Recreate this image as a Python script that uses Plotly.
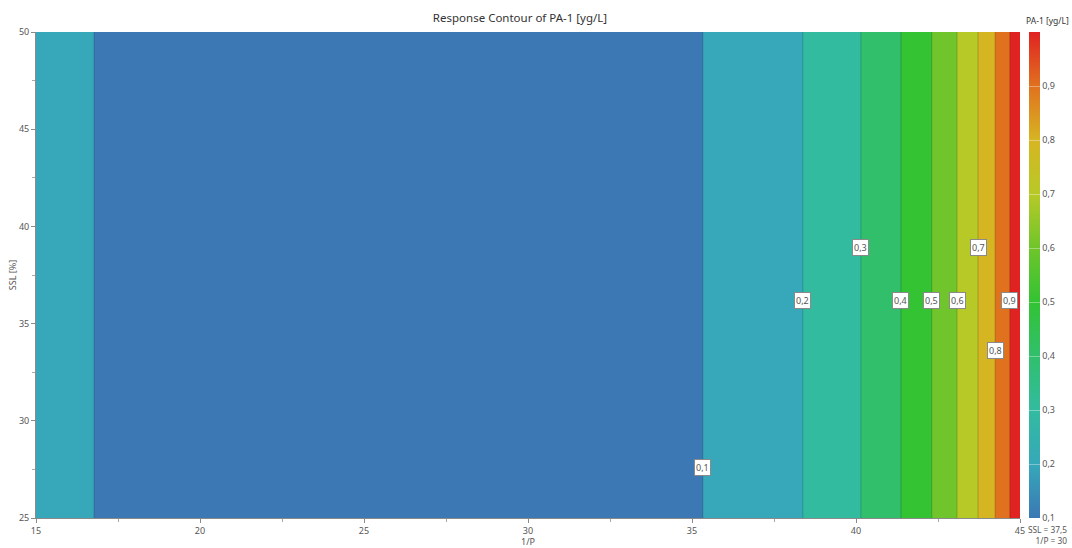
import plotly.graph_objects as go

# Response profile of PA-1 along 1/P (constant across SSL)
inv_p = [15.0, 16.77, 20.0, 25.0, 30.0, 35.33, 38.38, 40.15, 41.37, 42.31, 43.08, 43.72, 44.24, 44.69, 45.0]
pa1 = [0.13, 0.10, 0.075, 0.06, 0.07, 0.10, 0.20, 0.30, 0.40, 0.50, 0.60, 0.70, 0.80, 0.90, 0.99]
ssl = [25.0, 50.0]

# Contour levels and where their labels sit (SSL value)
levels = [0.1, 0.2, 0.3, 0.4, 0.5, 0.6, 0.7, 0.8, 0.9]
label_ssl = [27.6, 36.2, 38.9, 36.2, 36.2, 36.2, 38.9, 33.6, 36.2]

# Band colours: below 0.1, then each 0.1-wide band up to the top
band_colors = ["#3b78b4", "#36a8b9", "#33bb9f", "#31bf6c", "#33c333",
               "#6fc52b", "#b7c927", "#d6b522", "#e0711f", "#e02222"]

x_ticks = [15, 20, 25, 30, 35, 40, 45]
y_ticks = [25, 30, 35, 40, 45, 50]

FONT = "Noto Sans"
GREY = "#555555"

W, H = 1072, 548
ML, MR, MT, MB = 36, 0, 32, 30
PLOT_RIGHT_PX = 1020
BAR_LEFT_PX = 1029

z = [pa1 for _ in ssl]

n = len(band_colors)
scale = [[k / (n - 1), c] for k, c in enumerate(band_colors)]

paper_w = W - ML - MR
x_dom_end = (PLOT_RIGHT_PX - ML) / paper_w
bar_x = (BAR_LEFT_PX - ML) / paper_w

fig = go.Figure()
fig.add_trace(go.Contour(
    x=inv_p, y=ssl, z=z,
    contours=dict(start=levels[0], end=levels[-1], size=0.1, coloring="fill", showlabels=False),
    colorscale=scale,
    line=dict(color="rgba(0,0,0,0.18)", width=1),
    showscale=False,
    hoverinfo="skip",
))

# Continuous colour bar
fig.add_trace(go.Scatter(
    x=[None], y=[None], mode="markers",
    marker=dict(
        color=[0.5], cmin=0.1, cmax=1.0, colorscale=scale, showscale=True,
        colorbar=dict(
            x=bar_x, xanchor="left", xpad=0, y=0, yanchor="bottom", len=1.0, ypad=0,
            thickness=11, outlinewidth=0,
            tickvals=levels, ticktext=[f"{v:.1f}".replace(".", ",") for v in levels],
            ticks="inside", ticklen=11, tickcolor="rgba(255,255,255,0.35)",
            tickfont=dict(family=FONT, size=9, color=GREY),
        ),
    ),
    showlegend=False, hoverinfo="skip",
))

# Colour bar heading
fig.add_annotation(
    xref="paper", yref="paper", x=bar_x, y=1, xanchor="left", yanchor="bottom",
    xshift=-5, yshift=4, showarrow=False, text="PA-1 [yg/L]",
    font=dict(family=FONT, size=8.5, color="#333"),
)

# Boxed contour labels (each on the right-most crossing of its level)
for lv, ys in zip(levels, label_ssl):
    idx = max(i for i, v in enumerate(pa1) if v == lv)
    fig.add_annotation(
        x=inv_p[idx], y=ys, text=f"{lv:.1f}".replace(".", ","), showarrow=False,
        font=dict(family=FONT, size=9, color=GREY),
        bgcolor="white", bordercolor="#8a8a8a", borderwidth=1, borderpad=1,
    )

fig.add_annotation(
    xref="paper", yref="paper", x=x_dom_end, y=0, xanchor="left", yanchor="top",
    xshift=6, yshift=-4, align="right", showarrow=False,
    text="SSL = 37,5<br>1/P = 30", font=dict(family=FONT, size=8.3, color=GREY),
)

fig.update_layout(
    width=W, height=H,
    margin=dict(l=ML, r=MR, t=MT, b=MB),
    paper_bgcolor="white", plot_bgcolor="white",
    separators=",.",
    title=dict(text="Response Contour of PA-1 [yg/L]", x=(520 - ML) / paper_w, xref="paper",
               xanchor="center", y=1 - 18 / H, yanchor="middle",
               font=dict(family=FONT, size=11.5, color="#333")),
    font=dict(family=FONT, size=9, color=GREY),
    xaxis=dict(
        domain=[0, x_dom_end],
        range=[15, 45], tickvals=x_ticks, showgrid=False, zeroline=False,
        showline=True, linecolor="#8a8a8a", linewidth=1,
        ticks="outside", ticklen=4, tickcolor="#8a8a8a",
        minor=dict(dtick=2.5, ticks="outside", ticklen=3, tickcolor="#aaaaaa"),
        tickfont=dict(family=FONT, size=9, color=GREY),
        title=dict(text="1/P", font=dict(family=FONT, size=9, color=GREY), standoff=0),
        automargin=False,
    ),
    yaxis=dict(
        range=[25, 50], tickvals=y_ticks, showgrid=False, zeroline=False,
        showline=True, linecolor="#8a8a8a", linewidth=1,
        ticks="outside", ticklen=4, tickcolor="#8a8a8a",
        minor=dict(dtick=2.5, ticks="outside", ticklen=3, tickcolor="#aaaaaa"),
        tickfont=dict(family=FONT, size=9, color=GREY),
        title=dict(text="SSL [%]", font=dict(family=FONT, size=9, color=GREY), standoff=0),
        automargin=False,
    ),
)

fig.write_html("out.html")
